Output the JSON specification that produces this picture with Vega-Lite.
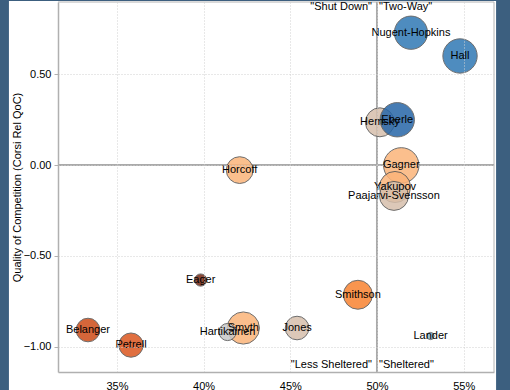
{
  "$schema": "https://vega.github.io/schema/vega-lite/v6.json",
  "width": 436,
  "height": 370,
  "autosize": {"type": "none"},
  "padding": {"left": 58, "top": 2, "right": 16, "bottom": 18},
  "background": "#3c5f7f",
  "config": {
    "view": {"stroke": "#b4b4b4", "fill": null},
    "font": "Liberation Sans",
    "axis": {
      "zindex": 1,
      "labelFont": "Liberation Sans",
      "labelFontSize": 11,
      "labelColor": "#000000",
      "domainColor": "#b0b0b0",
      "domainWidth": 1.5,
      "gridColor": "#d0d0d0",
      "gridDash": [1, 2],
      "tickColor": "#b0b0b0",
      "titleFont": "Liberation Sans",
      "titleFontSize": 11,
      "titleFontWeight": "normal",
      "titleColor": "#000000"
    }
  },
  "datasets": {
    "panel": [{"id": 1}],
    "players": [
      {"name": "Nugent-Hopkins", "zs": 0.5196, "qoc": 0.728, "toi": 961, "rel": 6},
      {"name": "Hall", "zs": 0.5479, "qoc": 0.600, "toi": 1024, "rel": 6},
      {"name": "Hemsky", "zs": 0.5017, "qoc": 0.235, "toi": 729, "rel": -1},
      {"name": "Eberle", "zs": 0.5117, "qoc": 0.249, "toi": 1024, "rel": 8},
      {"name": "Gagner", "zs": 0.514, "qoc": -0.002, "toi": 1089, "rel": -3},
      {"name": "Yakupov", "zs": 0.5104, "qoc": -0.121, "toi": 841, "rel": -3},
      {"name": "Paajarvi-Svensson", "zs": 0.5098, "qoc": -0.170, "toi": 729, "rel": -1},
      {"name": "Horcoff", "zs": 0.4208, "qoc": -0.028, "toi": 625, "rel": -3},
      {"name": "Eager", "zs": 0.3983, "qoc": -0.633, "toi": 130, "rel": -12},
      {"name": "Belanger", "zs": 0.3333, "qoc": -0.908, "toi": 484, "rel": -9},
      {"name": "Petrell", "zs": 0.3581, "qoc": -0.991, "toi": 511, "rel": -8},
      {"name": "Smyth", "zs": 0.4229, "qoc": -0.897, "toi": 900, "rel": -3},
      {"name": "Hartikainen", "zs": 0.4138, "qoc": -0.919, "toi": 256, "rel": 0},
      {"name": "Jones", "zs": 0.4539, "qoc": -0.897, "toi": 484, "rel": -1},
      {"name": "Smithson", "zs": 0.489, "qoc": -0.714, "toi": 729, "rel": -6},
      {"name": "Lander", "zs": 0.5309, "qoc": -0.941, "toi": 45, "rel": 2}
    ],
    "quadrants": [
      {"label": "\"Shut Down\"", "zs": 0.5, "qoc": 0.8695, "side": "left"},
      {"label": "\"Two-Way\"", "zs": 0.5, "qoc": 0.8695, "side": "right"},
      {"label": "\"Less Sheltered\"", "zs": 0.5, "qoc": -1.1007, "side": "left"},
      {"label": "\"Sheltered\"", "zs": 0.5, "qoc": -1.1007, "side": "right"}
    ]
  },
  "layer": [
    {
      "data": {"name": "panel"},
      "mark": {"type": "rect", "color": "#ffffff", "opacity": 1},
      "encoding": {
        "x": {
          "datum": 0.2877, "type": "quantitative",
          "scale": {"domain": [0.316, 0.5675], "nice": false, "zero": false},
          "axis": {"title": null, "grid": true, "format": ".0%", "values": [0.35, 0.4, 0.45, 0.5, 0.55], "ticks": false, "labelPadding": 8, "zindex": 2}
        },
        "x2": {"datum": 0.5687},
        "y": {
          "datum": 0.9025, "type": "quantitative",
          "scale": {"domain": [-1.139, 0.897], "nice": false, "zero": false},
          "axis": {"title": "Quality of Competition (Corsi Rel QoC)", "grid": true, "format": ".2f", "values": [-1, -0.5, 0, 0.5], "tickSize": 4, "labelPadding": 3, "titlePadding": 1, "zindex": 2}
        },
        "y2": {"datum": -1.3}
      }
    },
    {
      "data": {"name": "panel"},
      "mark": {"type": "rule", "color": "#b4b4b4", "strokeWidth": 1},
      "encoding": {
        "x": {"datum": 0.5675, "type": "quantitative", "scale": {"domain": [0.316, 0.5675], "nice": false, "zero": false}}
      }
    },
    {
      "data": {"name": "panel"},
      "mark": {"type": "rule", "color": "#b4b4b4", "strokeWidth": 1},
      "encoding": {
        "y": {"datum": 0.897, "type": "quantitative", "scale": {"domain": [-1.139, 0.897], "nice": false, "zero": false}}
      }
    },
    {
      "data": {"name": "panel"},
      "mark": {"type": "rule", "color": "#aaaaaa", "strokeWidth": 2},
      "encoding": {
        "x": {"datum": 0.5, "type": "quantitative", "scale": {"domain": [0.316, 0.5675], "nice": false, "zero": false}}
      }
    },
    {
      "data": {"name": "panel"},
      "mark": {"type": "rule", "color": "#aaaaaa", "strokeWidth": 2},
      "encoding": {
        "y": {"datum": 0, "type": "quantitative", "scale": {"domain": [-1.139, 0.897], "nice": false, "zero": false}}
      }
    },
    {
      "data": {"name": "players"},
      "mark": {"type": "circle", "opacity": 0.85, "stroke": "#555555", "strokeWidth": 1},
      "encoding": {
        "x": {"field": "zs", "type": "quantitative", "scale": {"domain": [0.316, 0.5675], "nice": false, "zero": false}},
        "y": {"field": "qoc", "type": "quantitative", "scale": {"domain": [-1.139, 0.897], "nice": false, "zero": false}},
        "size": {"field": "toi", "type": "quantitative", "scale": {"type": "linear", "domain": [0, 1200], "range": [0, 1380], "zero": true}, "legend": null},
        "color": {
          "field": "rel", "type": "quantitative",
          "scale": {
            "domain": [-12, -9, -8, -6, -3, -1, 0, 2, 6, 8],
            "range": ["#772a15", "#cd4c18", "#db571f", "#f88331", "#fbb47a", "#d6bfac", "#c8c8c8", "#84b9d6", "#3078b5", "#2666a7"],
            "interpolate": "rgb"
          },
          "legend": null
        }
      }
    },
    {
      "data": {"name": "players"},
      "mark": {"type": "text", "fontSize": 11, "color": "#000000", "align": "center", "baseline": "middle"},
      "encoding": {
        "x": {"field": "zs", "type": "quantitative", "scale": {"domain": [0.316, 0.5675], "nice": false, "zero": false}},
        "y": {"field": "qoc", "type": "quantitative", "scale": {"domain": [-1.139, 0.897], "nice": false, "zero": false}},
        "text": {"field": "name"}
      }
    },
    {
      "data": {"name": "quadrants"},
      "transform": [{"filter": "datum.side === 'left'"}],
      "mark": {"type": "text", "fontSize": 11, "color": "#000000", "align": "right", "baseline": "middle", "dx": -5},
      "encoding": {
        "x": {"field": "zs", "type": "quantitative", "scale": {"domain": [0.316, 0.5675], "nice": false, "zero": false}},
        "y": {"field": "qoc", "type": "quantitative", "scale": {"domain": [-1.139, 0.897], "nice": false, "zero": false}},
        "text": {"field": "label"}
      }
    },
    {
      "data": {"name": "quadrants"},
      "transform": [{"filter": "datum.side === 'right'"}],
      "mark": {"type": "text", "fontSize": 11, "color": "#000000", "align": "left", "baseline": "middle", "dx": 2},
      "encoding": {
        "x": {"field": "zs", "type": "quantitative", "scale": {"domain": [0.316, 0.5675], "nice": false, "zero": false}},
        "y": {"field": "qoc", "type": "quantitative", "scale": {"domain": [-1.139, 0.897], "nice": false, "zero": false}},
        "text": {"field": "label"}
      }
    }
  ]
}
